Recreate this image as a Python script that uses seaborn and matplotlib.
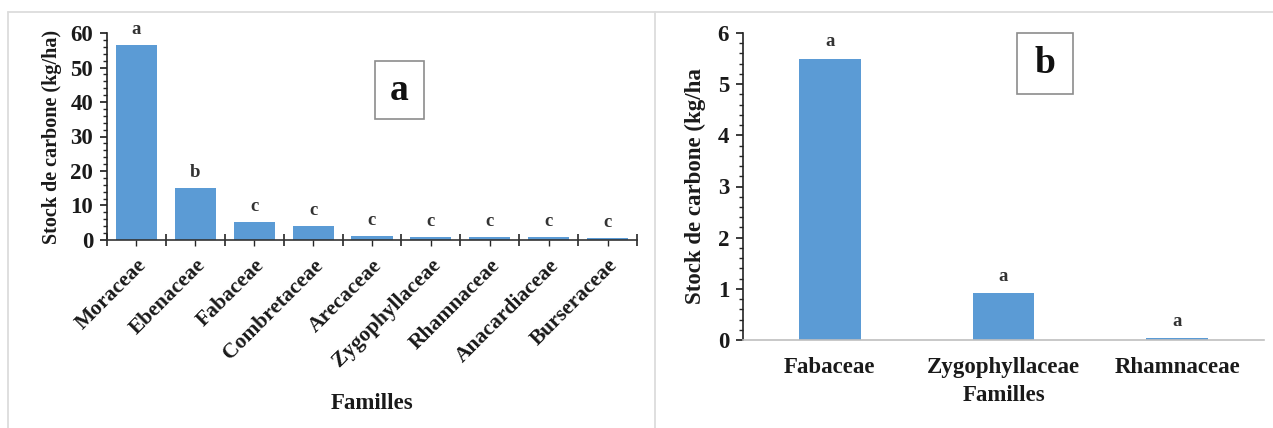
import matplotlib
matplotlib.use("Agg")
import matplotlib.pyplot as plt
from matplotlib.lines import Line2D
from matplotlib.patches import Rectangle
from matplotlib.ticker import MultipleLocator, FixedLocator
import seaborn as sns
import pandas as pd

# Panel a: carbon stock by family
families_a = ["Moraceae", "Ebenaceae", "Fabaceae", "Combretaceae", "Arecaceae",
              "Zygophyllaceae", "Rhamnaceae", "Anacardiaceae", "Burseraceae"]
stock_a = [56.5, 15.2, 5.3, 4.2, 1.2, 0.9, 0.9, 0.9, 0.6]
letters_a = ["a", "b", "c", "c", "c", "c", "c", "c", "c"]

# Panel b: carbon stock by family
families_b = ["Fabaceae", "Zygophyllaceae", "Rhamnaceae"]
stock_b = [5.5, 0.92, 0.03]
letters_b = ["a", "a", "a"]

BAR = "#5B9BD5"
TXT = "#1a1a1a"

sns.set_style("ticks")
plt.rcParams["font.family"] = ["Liberation Serif", "DejaVu Serif"]
plt.rcParams["font.weight"] = "bold"

W, H = 1273, 428
fig = plt.figure(figsize=(W / 100, H / 100), dpi=100)


def fx(px):
    return px / W


def fy(py):
    return 1 - py / H


# ---- panel a ----
ax1 = fig.add_axes([fx(107), fy(240), fx(637) - fx(107), fy(33) - fy(240)])
df_a = pd.DataFrame({"Famille": families_a, "Stock": stock_a})
sns.barplot(data=df_a, x="Famille", y="Stock", color=BAR, saturation=1,
            width=0.70, ax=ax1, edgecolor="none")
ax1.set_ylim(0, 60)
ax1.set_xlim(-0.5, len(families_a) - 0.5)
ax1.yaxis.set_major_locator(MultipleLocator(10))
ax1.yaxis.set_minor_locator(MultipleLocator(2))
ax1.xaxis.set_minor_locator(FixedLocator([i + 0.5 for i in range(-1, len(families_a))]))
ax1.tick_params(axis="y", which="major", direction="out", length=5, width=1.2,
                labelsize=16.5, colors=TXT, pad=5)
ax1.tick_params(axis="y", which="minor", direction="out", length=3, width=1)
ax1.tick_params(axis="x", which="major", direction="out", length=4, width=1, pad=7)
ax1.tick_params(axis="x", which="minor", direction="inout", length=8, width=1.2)
for lab in ax1.get_yticklabels():
    lab.set_fontweight("bold")
ax1.set_xticks(range(len(families_a)))
ax1.set_xticklabels(families_a, rotation=45, ha="right", rotation_mode="anchor",
                    fontsize=15.5, fontweight="bold", color=TXT)
ax1.set_ylabel("Stock de carbone (kg/ha)", fontsize=14.5, fontweight="bold",
               color=TXT, labelpad=6)
ax1.set_xlabel("Familles", fontsize=16.5, fontweight="bold", color=TXT)
ax1.xaxis.set_label_coords(0.5, -0.74)
for s in ("top", "right"):
    ax1.spines[s].set_visible(False)
ax1.spines["left"].set_color("#222222")
ax1.spines["bottom"].set_color("#333333")
ax1.spines["left"].set_linewidth(1.2)
ax1.spines["bottom"].set_linewidth(1.2)
for i, (v, l) in enumerate(zip(stock_a, letters_a)):
    ax1.annotate(l, (i, v), xytext=(0, 5), textcoords="offset points",
                 ha="center", va="bottom", fontsize=13.5, fontweight="bold", color="#333333")

# ---- panel b ----
ax2 = fig.add_axes([fx(743), fy(340), fx(1264) - fx(743), fy(33) - fy(340)])
df_b = pd.DataFrame({"Famille": families_b, "Stock": stock_b})
sns.barplot(data=df_b, x="Famille", y="Stock", color=BAR, saturation=1,
            width=0.356, ax=ax2, edgecolor="none")
ax2.set_ylim(0, 6)
ax2.set_xlim(-0.5, len(families_b) - 0.5)
ax2.yaxis.set_major_locator(MultipleLocator(1))
ax2.yaxis.set_minor_locator(MultipleLocator(0.2))
ax2.tick_params(axis="y", which="major", direction="out", length=5, width=1.2,
                labelsize=16.5, colors=TXT, pad=5)
ax2.tick_params(axis="y", which="minor", direction="out", length=3, width=1)
ax2.tick_params(axis="x", which="both", length=0, pad=12)
for lab in ax2.get_yticklabels():
    lab.set_fontweight("bold")
ax2.set_xticks(range(len(families_b)))
ax2.set_xticklabels(families_b, fontsize=16.5, fontweight="bold", color=TXT)
ax2.set_ylabel("Stock de carbone (kg/ha", fontsize=16.5, fontweight="bold",
               color=TXT, labelpad=8)
ax2.set_xlabel("Familles", fontsize=16.5, fontweight="bold", color=TXT, labelpad=5)
for s in ("top", "right"):
    ax2.spines[s].set_visible(False)
ax2.spines["left"].set_color("#222222")
ax2.spines["left"].set_linewidth(1.2)
ax2.spines["bottom"].set_color("#BFBFBF")
ax2.spines["bottom"].set_linewidth(1.2)
for i, (v, l) in enumerate(zip(stock_b, letters_b)):
    ax2.annotate(l, (i, v), xytext=(0, 6), textcoords="offset points",
                 ha="center", va="bottom", fontsize=13.5, fontweight="bold", color="#333333")

# ---- panel tags ----
for (x0, y0, x1, y1, tag) in [(375, 61, 424, 119, "a"), (1017, 33, 1073, 94, "b")]:
    fig.add_artist(Rectangle((fx(x0), fy(y1)), fx(x1) - fx(x0), fy(y0) - fy(y1),
                             transform=fig.transFigure, fc="white", ec="#8c8c8c", lw=1.2))
    fig.text(fx((x0 + x1) / 2), fy((y0 + y1) / 2), tag, ha="center", va="center",
             fontsize=27, fontweight="bold", color="#111111")

# ---- frame lines around the two panels ----
grey = "#dcdcdc"
fig.add_artist(Line2D([fx(8), 1], [fy(12), fy(12)], transform=fig.transFigure, color=grey, lw=1.3))
fig.add_artist(Line2D([fx(8), fx(8)], [0, fy(12)], transform=fig.transFigure, color=grey, lw=1.3))
fig.add_artist(Line2D([fx(655), fx(655)], [0, fy(12)], transform=fig.transFigure, color=grey, lw=1.3))

fig.savefig("out.png", dpi=100, facecolor="white")
